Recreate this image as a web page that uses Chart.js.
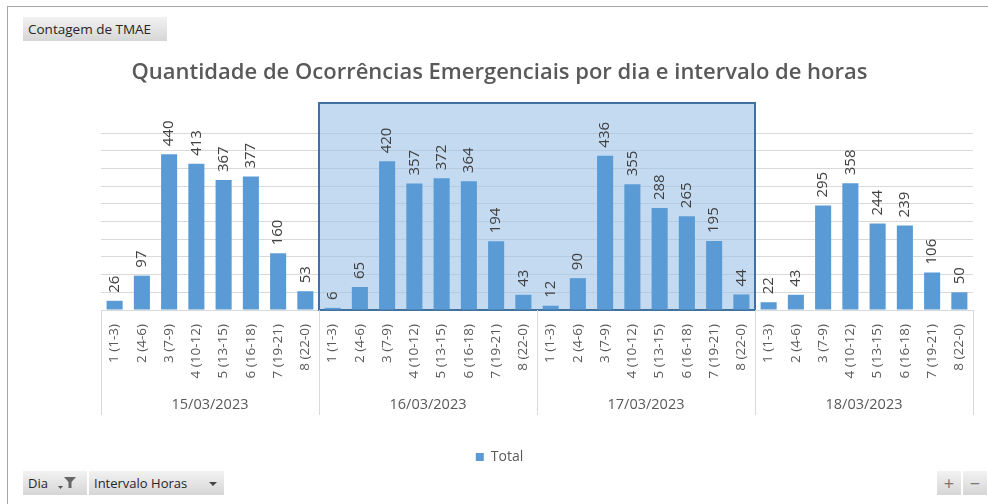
<!DOCTYPE html>
<html>
<head>
<meta charset="utf-8">
<script src="https://cdn.jsdelivr.net/npm/chart.js@4.4.0/dist/chart.umd.min.js"></script>
<style>
  html, body { margin: 0; padding: 0; background: #fff; }
  #wrap { position: relative; width: 988px; height: 504px; overflow: hidden; font-family: "Open Sans", sans-serif; }
  #frame { position: absolute; left: 7px; top: 6px; right: -2px; bottom: -2px; border-top: 1px solid #a6a6a6; border-left: 1px solid #a6a6a6; }
  canvas { position: absolute; left: 0; top: 0; }
  .btn { position: absolute; height: 24px; line-height: 24px; font-size: 13px; color: #262626;
         background: linear-gradient(#f2f2f2, #d6d6d6); box-sizing: border-box; padding-left: 5px; white-space: nowrap; }
</style>
</head>
<body>
<div id="wrap">
  <div id="frame"></div>
  <canvas id="chart" width="988" height="504"></canvas>
  <div class="btn" style="left:23px;top:17px;width:144px;font-size:13.5px;">Contagem de TMAE</div>
  <div class="btn" style="left:23px;top:471px;width:64px;">Dia
    <svg width="22" height="14" style="position:absolute;left:33px;top:5px" viewBox="0 0 22 14">
      <path d="M2 10 L7 10 L4.5 13 Z" fill="#555"/>
      <path d="M8 1 L20 1 L15.5 6 L15.5 12 L12.5 12 L12.5 6 Z" fill="#666"/>
    </svg>
  </div>
  <div class="btn" style="left:89px;top:471px;width:135px;">Intervalo Horas
    <svg width="10" height="6" style="position:absolute;left:119px;top:10px" viewBox="0 0 10 6"><path d="M1 1 L9 1 L5 5 Z" fill="#444"/></svg>
  </div>
  <div class="btn" style="left:937px;top:471px;width:24px;padding:0;text-align:center;font-size:18px;color:#777;">+</div>
  <div class="btn" style="left:963px;top:471px;width:24px;padding:0;text-align:center;font-size:18px;color:#777;">&minus;</div>
</div>
<script>
// Dias e intervalos
const dias = ['15/03/2023', '16/03/2023', '17/03/2023', '18/03/2023'];
const intervalos = ['1 (1-3)', '2 (4-6)', '3 (7-9)', '4 (10-12)', '5 (13-15)', '6 (16-18)', '7 (19-21)', '8 (22-0)'];

// Contagem por dia (um valor por intervalo)
const dia15 = [26, 97, 440, 413, 367, 377, 160, 53];
const dia16 = [6, 65, 420, 357, 372, 364, 194, 43];
const dia17 = [12, 90, 436, 355, 288, 265, 195, 44];
const dia18 = [22, 43, 295, 358, 244, 239, 106, 50];

const yMax = 500;
const yStep = 50;
// dias selecionados (caixa azul)
const selecionados = [1, 2];

const labels = [];
dias.forEach(() => intervalos.forEach(i => labels.push(i)));
const valores = [].concat(dia15, dia16, dia17, dia18);

const n = intervalos.length;

// caixa de seleção atrás das barras
const selecaoPlugin = {
  id: 'selecao',
  beforeDatasetsDraw(chart) {
    const x = chart.scales.x, y = chart.scales.y, ctx = chart.ctx;
    const half = (x.getPixelForValue(1) - x.getPixelForValue(0)) / 2;
    const a = x.getPixelForValue(selecionados[0] * n) - half;
    const b = x.getPixelForValue((selecionados[selecionados.length - 1] + 1) * n - 1) + half;
    const top = y.top - 30;
    ctx.save();
    ctx.fillStyle = 'rgba(155, 194, 230, 0.6)';
    ctx.fillRect(a, top, b - a, y.bottom - top);
    ctx.strokeStyle = '#41719c';
    ctx.lineWidth = 2;
    ctx.strokeRect(a, top, b - a, y.bottom - top);
    ctx.restore();
  }
};

// rótulos de valor girados + linhas e nomes dos dias
const rotulosPlugin = {
  id: 'rotulos',
  afterDraw(chart) {
    const ctx = chart.ctx, x = chart.scales.x;
    const meta = chart.getDatasetMeta(0);
    ctx.save();
    ctx.font = '15px "Open Sans"';
    ctx.fillStyle = '#404040';
    ctx.textAlign = 'left';
    ctx.textBaseline = 'middle';
    meta.data.forEach((bar, i) => {
      ctx.save();
      ctx.translate(bar.x, bar.y - 8);
      ctx.rotate(-Math.PI / 2);
      ctx.fillText(valores[i], 0, 0);
      ctx.restore();
    });

    const half = (x.getPixelForValue(1) - x.getPixelForValue(0)) / 2;
    const bottom = x.top + 105;
    ctx.strokeStyle = '#d9d9d9';
    ctx.lineWidth = 1;
    for (let d = 0; d <= dias.length; d++) {
      const px = Math.round(x.getPixelForValue(d * n) - half) + 0.5;
      ctx.beginPath();
      ctx.moveTo(px, x.top);
      ctx.lineTo(px, bottom);
      ctx.stroke();
    }
    ctx.font = '14.5px "Open Sans"';
    ctx.fillStyle = '#595959';
    ctx.textAlign = 'center';
    dias.forEach((d, k) => {
      const c = (x.getPixelForValue(k * n) + x.getPixelForValue(k * n + n - 1)) / 2;
      ctx.fillText(d, c, x.top + 95);
    });
    ctx.restore();
  }
};

const ctx = document.getElementById('chart').getContext('2d');
new Chart(ctx, {
  type: 'bar',
  data: {
    labels: labels,
    datasets: [{
      label: 'Total',
      data: valores,
      backgroundColor: '#5b9bd5',
      barPercentage: 0.59,
      categoryPercentage: 1
    }]
  },
  options: {
    responsive: false,
    animation: false,
    layout: { padding: { left: 26, right: 15, top: 0, bottom: 30 } },
    plugins: {
      title: {
        display: true,
        text: 'Quantidade de Ocorrências Emergenciais por dia e intervalo de horas',
        color: '#595959',
        font: { family: '"Open Sans"', size: 22, weight: '600' },
        padding: { top: 60, bottom: 46.6 }
      },
      legend: {
        position: 'bottom',
        labels: {
          color: '#595959',
          font: { family: '"Open Sans"', size: 14 },
          boxWidth: 8,
          boxHeight: 8,
          padding: 10
        }
      },
      tooltip: { enabled: false }
    },
    scales: {
      x: {
        grid: { display: false },
        border: { display: true, color: '#d9d9d9' },
        ticks: {
          autoSkip: false,
          minRotation: 90,
          maxRotation: 90,
          padding: 6,
          color: '#595959',
          font: { family: '"Open Sans"', size: 13.5 }
        },
        afterFit(scale) { scale.height = 130; }
      },
      y: {
        min: 0,
        max: yMax,
        ticks: { display: false, stepSize: yStep },
        grid: { color: '#d9d9d9', drawTicks: false },
        border: { display: false },
        afterFit(scale) { scale.width = 75; }
      }
    }
  },
  plugins: [selecaoPlugin, rotulosPlugin]
});
</script>
</body>
</html>
